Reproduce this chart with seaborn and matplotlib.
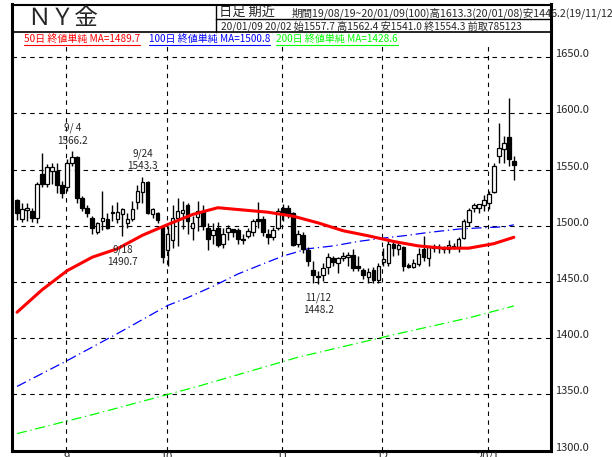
import numpy as np
import pandas as pd
import matplotlib
matplotlib.use("Agg")
import matplotlib.pyplot as plt
import seaborn as sns

# === DATA ===
opens = [1523, 1506, 1514, 1513, 1507, 1546, 1537, 1549, 1549, 1536,
         1534, 1556, 1561, 1525, 1516, 1507, 1494, 1504, 1506, 1512,
         1506, 1510, 1502, 1506, 1521, 1530, 1539, 1510, 1511, 1499,
         1478, 1487, 1507, 1511, 1518, 1498, 1508, 1512, 1498, 1492,
         1498, 1484, 1494, 1497, 1496, 1488, 1491, 1494, 1506, 1506,
         1493, 1490, 1498, 1516, 1516, 1511, 1484, 1492, 1478, 1461,
         1455, 1456, 1463, 1471, 1467, 1471, 1472, 1474, 1464, 1461,
         1454, 1461, 1452, 1468, 1467, 1484, 1479, 1481, 1465, 1463,
         1466, 1479, 1471, 1480, 1481, 1480, 1479, 1482, 1481, 1489,
         1503, 1516, 1516, 1518, 1520, 1530, 1562, 1568, 1579, 1557.7]
highs = [1524, 1520, 1520, 1516, 1539, 1565, 1555, 1556, 1556, 1540,
         1559, 1566.2, 1562, 1526, 1518, 1509, 1503, 1531, 1511, 1518,
         1521, 1516, 1511, 1522, 1536, 1543.3, 1540, 1516, 1512, 1500,
         1500, 1518, 1525, 1522, 1520, 1509, 1522, 1518, 1502, 1502,
         1503, 1498, 1501, 1497, 1498, 1493, 1498, 1506, 1521, 1509,
         1497, 1499, 1516, 1519, 1518, 1512, 1496, 1494, 1481, 1469,
         1460, 1467, 1476, 1473, 1472, 1477, 1477, 1479, 1473, 1462,
         1462, 1463, 1467, 1480, 1489, 1487, 1486, 1482, 1467, 1470,
         1480, 1491, 1482, 1484, 1484, 1482, 1487, 1485, 1490, 1506,
         1516, 1520, 1519, 1527, 1531, 1556, 1591, 1580, 1613.3, 1562.4]
lows = [1505, 1503, 1504, 1503, 1502, 1534, 1534, 1537, 1529, 1525,
        1531, 1553, 1520, 1513, 1508, 1493, 1493, 1496, 1497, 1504,
        1502, 1490.7, 1498, 1504, 1515, 1520, 1510, 1507, 1502, 1467,
        1464, 1480, 1482, 1497, 1493, 1487, 1495, 1496, 1478, 1484,
        1481, 1480, 1487, 1490, 1484, 1484, 1489, 1491, 1498, 1491,
        1484, 1487, 1496, 1504, 1507, 1482, 1481, 1476, 1464, 1449,
        1448.2, 1451, 1457, 1464, 1458, 1469, 1464, 1460, 1460, 1453,
        1449, 1449, 1449, 1464, 1464, 1473, 1474, 1460, 1462, 1462,
        1464, 1469, 1464, 1477, 1476, 1476, 1476, 1479, 1477, 1488,
        1500, 1512, 1511, 1513, 1515, 1529, 1556, 1556, 1553, 1541.0]
closes = [1511, 1515, 1516, 1507, 1537, 1537, 1552, 1552, 1536, 1529,
          1556, 1561, 1525, 1516, 1511, 1498, 1502, 1507, 1498, 1511,
          1512, 1515, 1506, 1515, 1531, 1539, 1511, 1515, 1505, 1472,
          1493, 1507, 1513, 1514, 1504, 1502, 1513, 1500, 1488, 1496,
          1483, 1493, 1498, 1494, 1488, 1487, 1495, 1504, 1504, 1494,
          1490, 1496, 1513, 1511, 1510, 1483, 1493, 1479, 1469, 1456,
          1454, 1462, 1472, 1468, 1471, 1473, 1474, 1462, 1462, 1456,
          1459, 1452, 1464, 1470, 1484, 1480, 1483, 1464, 1463, 1467,
          1475, 1472, 1481, 1481, 1480, 1479, 1483, 1481, 1488, 1504,
          1514, 1518, 1519, 1523, 1528, 1553, 1569, 1574, 1559, 1554.3]

# moving averages, sampled at candle positions
ma50_pos = [0, 5, 10, 15, 20, 25, 30, 35, 40, 45, 50, 55, 60, 65, 70, 75, 80, 85, 90, 95, 99]
ma50_val = [1423, 1443, 1460, 1472, 1479.5, 1491.5, 1501, 1510, 1516, 1514, 1512,
            1508.5, 1502.5, 1495.5, 1491, 1486, 1482, 1480, 1480, 1484, 1489.7]
ma100_pos = [0, 10, 20, 30, 34, 39, 44, 49, 53, 58, 63, 68, 73, 77, 82, 88, 92, 97, 99]
ma100_val = [1357, 1380, 1404, 1429, 1436, 1446, 1457, 1466, 1473, 1479.5, 1482,
             1486, 1489, 1491, 1494, 1497, 1498, 1499, 1500.8]
ma200_pos = [0, 16, 36, 56, 76, 90, 99]
ma200_val = [1315, 1333, 1357, 1383, 1404, 1418, 1428.6]

month_pos = [10, 30, 53, 73, 94]
month_labels = ["9", "10", "11", "12", "20/1"]
price_ticks = [1300, 1350, 1400, 1450, 1500, 1550, 1600, 1650]

peak_marks = [(11, "9/ 4", "1566.2"), (25, "9/24", "1543.3")]
trough_marks = [(21, "9/18", "1490.7"), (60, "11/12", "1448.2")]

legend_texts = ["50日 終値単純 MA=1489.7", "100日 終値単純 MA=1500.8", "200日 終値単純 MA=1428.6"]
legend_colors = ["#ff0000", "#0000ff", "#00ff00"]

head1a = "日足 期近"
head1b = "期間19/08/19~20/01/09(100)高1613.3(20/01/08)安1446.2(19/11/12)"
head2 = "20/01/09 20/02 始1557.7 高1562.4 安1541.0 終1554.3 前取785123"

# === STYLE ===
sns.set_theme(style="white")
plt.rcParams['font.family'] = ['Noto Sans CJK JP', 'DejaVu Sans']

W, H = 612, 457
fig = plt.figure(figsize=(W / 100, H / 100), dpi=100)
fig.patch.set_facecolor("white")

# pixel geometry
L, R, T, B = 12, 551, 32, 450.5
PX = 1.124  # pixels per price unit


def fx(px):
    return px / W


def fy(py):
    return 1 - py / H


ax = fig.add_axes([fx(L), fy(B), fx(R) - fx(L), fy(T) - fy(B)])
ax.set_facecolor("white")
ymax = 1300 + (B - T) / PX
ax.set_ylim(1300, ymax)
ax.set_xlim(-1.0, 106.4)

df = pd.DataFrame({"o": opens, "h": highs, "l": lows, "c": closes})
df["i"] = np.arange(len(df))
up = df["c"] >= df["o"]
body = (df["c"] - df["o"]).abs().clip(lower=0.8)
base = df[["o", "c"]].min(axis=1)

# grid
ax.hlines(price_ticks[1:], -1.0, 106.4, colors="black", linestyles=(0, (4, 4)), lw=0.8, zorder=1)
ax.vlines([p - 0.2 for p in month_pos], 1300, 1661, colors="black", linestyles=(0, (4, 4)), lw=0.8, zorder=1)

# moving averages
sns.lineplot(x=ma200_pos, y=ma200_val, color="#00ff00", lw=0.9, ax=ax, zorder=2)
ax.lines[-1].set_linestyle((0, (8, 3, 1, 3)))
sns.lineplot(x=ma100_pos, y=ma100_val, color="#0000ff", lw=0.9, ax=ax, zorder=2)
ax.lines[-1].set_linestyle((0, (8, 3, 1, 3)))

# candles
ax.vlines(df["i"], df["l"], df["h"], color="black", lw=1, zorder=3)
ax.bar(df["i"][up], body[up], bottom=base[up], width=0.72, color="white",
       edgecolor="black", lw=0.9, zorder=4)
ax.bar(df["i"][~up], body[~up], bottom=base[~up], width=0.72, color="black",
       edgecolor="black", lw=0.9, zorder=4)

sns.lineplot(x=ma50_pos, y=ma50_val, color="#ff0000", lw=2.2, ax=ax, zorder=5)

fs = 7.2
for i, d, v in peak_marks:
    ax.annotate(d + "\n" + v, (i, highs[i]), xytext=(0, 4), textcoords="offset points",
                ha="center", va="bottom", fontsize=fs, linespacing=1.3, zorder=6)
for i, d, v in trough_marks:
    ax.annotate(d + "\n" + v, (i, lows[i]), xytext=(0, -6), textcoords="offset points",
                ha="center", va="top", fontsize=fs, linespacing=1.3, zorder=6)

for s in ax.spines.values():
    s.set_visible(False)
ax.set_xticks([])
ax.set_yticks([])
ax.grid(False)

# === OVERLAY: frame, header, labels ===
ov = fig.add_axes([0, 0, 1, 1], zorder=10)
ov.set_xlim(0, W)
ov.set_ylim(H, 0)
ov.axis("off")
ov.patch.set_alpha(0)

k = dict(color="black", solid_capstyle="projecting")
ov.plot([L, L], [4, B], lw=2.2, **k)
ov.plot([R, R], [4, B], lw=2.2, **k)
ov.plot([L, R], [B, B], lw=2.2, **k)
ov.plot([L, R], [4.5, 4.5], lw=1.5, **k)
ov.plot([L, R], [T, T], lw=1.2, **k)
ov.plot([216, 216], [4.5, T], lw=1, **k)
ov.plot([216, R], [19, 19], lw=1, **k)

ov.text(27, 19, "ＮＹ金", fontsize=17, va="center", ha="left")
ov.text(219, 12, head1a, fontsize=9.5, va="center", ha="left")
ov.text(292, 13, head1b, fontsize=7.6, va="center", ha="left", clip_on=False)
ov.text(221, 26, head2, fontsize=fs + 0.1, va="center", ha="left")

for p in price_ticks:
    yy = T + (ymax - p) * PX
    ov.text(555, yy - 3, f"{p:.1f}", fontsize=8, va="center", ha="left")
for p, lab in zip(month_pos, month_labels):
    xx = L + (p - 0.2 + 1.0) / 107.4 * (R - L)
    ov.text(xx, B + 1.5, lab, fontsize=8, va="top", ha="center")

legend_x = [24, 149, 276]
fig.canvas.draw()
rend = fig.canvas.get_renderer()
inv = ov.transData.inverted()
for x0, txt, col in zip(legend_x, legend_texts, legend_colors):
    t = ov.text(x0, 39, txt, fontsize=fs, color=col, va="center", ha="left")
    bb = t.get_window_extent(rend)
    (a, _), (b, _) = inv.transform([[bb.x0, bb.y0], [bb.x1, bb.y0]])
    ov.plot([a, b], [45, 45], color=col, lw=0.8)

fig.savefig("out.png", dpi=100)
